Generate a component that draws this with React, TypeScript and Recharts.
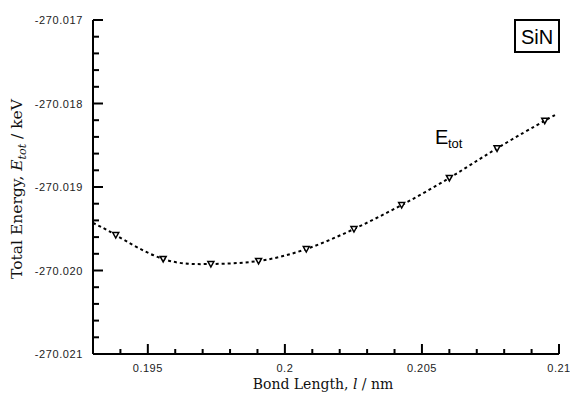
import React from "react";
import { ComposedChart, Line, Scatter, XAxis, YAxis, Label } from "recharts";

// measured points (bond length in nm, total energy in keV)
const bondLength = [0.19383, 0.19556, 0.1973, 0.19904, 0.20078, 0.20252, 0.20426, 0.206, 0.20774, 0.20948];
const totalEnergy = [
  -270.019575, -270.019862, -270.019922, -270.019886, -270.019743, -270.019503, -270.019216, -270.018892,
  -270.018537, -270.018206,
];

// dashed fit curve ends
const fitStart = { x: 0.193, y: -270.019431 };
const fitEnd = { x: 0.20993, y: -270.018126 };

const xTicks = [
  0.193, 0.194, 0.195, 0.196, 0.197, 0.198, 0.199, 0.2, 0.201, 0.202, 0.203, 0.204, 0.205, 0.206, 0.207, 0.208,
  0.209, 0.21,
];
const xMajor = [0.195, 0.2, 0.205, 0.21];
const xMajorLabels = ["0.195", "0.2", "0.205", "0.21"];

const yTicks = [
  -270.021, -270.0208, -270.0206, -270.0204, -270.0202, -270.02, -270.0198, -270.0196, -270.0194, -270.0192,
  -270.019, -270.0188, -270.0186, -270.0184, -270.0182, -270.018, -270.0178, -270.0176, -270.0174, -270.0172,
  -270.017,
];
const yMajor = [-270.021, -270.02, -270.019, -270.018, -270.017];
const yMajorLabels = ["-270.021", "-270.020", "-270.019", "-270.018", "-270.017"];

const points = bondLength.map((x, i) => ({ x, y: totalEnergy[i] }));
const curve = [fitStart, ...points, fitEnd];

const sans = "'Liberation Sans', Arial, sans-serif";
const serif = "'DejaVu Serif', serif";

const findMajor = (list: number[], v: number) => list.findIndex((m) => Math.abs(m - v) < 1e-7);

const BottomTick = ({ x, y, payload }: any) => {
  const i = findMajor(xMajor, payload.value);
  return (
    <g>
      <line x1={x} y1={y} x2={x} y2={y - (i >= 0 ? 10 : 5)} stroke="#000" strokeWidth={2} />
      {i >= 0 && (
        <text x={x} y={y + 18} textAnchor="middle" fontSize={11} letterSpacing={0.5} fontFamily={sans} fill="#222">
          {xMajorLabels[i]}
        </text>
      )}
    </g>
  );
};

const TopTick = ({ x, y, payload }: any) => {
  const i = findMajor(xMajor, payload.value);
  return <line x1={x} y1={y} x2={x} y2={y + (i >= 0 ? 10 : 5)} stroke="#000" strokeWidth={2} />;
};

const LeftTick = ({ x, y, payload }: any) => {
  const i = findMajor(yMajor, payload.value);
  return (
    <g>
      <line x1={x} y1={y} x2={x + (i >= 0 ? 10 : 6)} y2={y} stroke="#000" strokeWidth={2} />
      {i >= 0 && (
        <text x={x - 10} y={y + 4} textAnchor="end" fontSize={11} letterSpacing={0.6} fontFamily={sans} fill="#222">
          {yMajorLabels[i]}
        </text>
      )}
    </g>
  );
};

const RightTick = ({ x, y, payload }: any) => {
  const i = findMajor(yMajor, payload.value);
  return <line x1={x} y1={y} x2={x - (i >= 0 ? 10 : 6)} y2={y} stroke="#000" strokeWidth={2} />;
};

const Triangle = ({ cx, cy }: any) => (
  <path
    d={`M${cx - 3},${cy - 2.5} L${cx + 3},${cy - 2.5} L${cx},${cy + 3} Z`}
    fill="#fff"
    stroke="#000"
    strokeWidth={1.5}
  />
);

const XTitle = ({ viewBox }: any) => (
  <text
    x={viewBox.x + viewBox.width / 2 - 3}
    y={viewBox.y + 35}
    textAnchor="middle"
    fontSize={14}
    fontFamily={serif}
    fill="#111"
  >
    Bond Length, <tspan fontStyle="italic">l</tspan> / nm
  </text>
);

const YTitle = ({ viewBox }: any) => {
  const cx = 22;
  const cy = viewBox.y + viewBox.height / 2 + 2;
  return (
    <text
      x={cx}
      y={cy}
      transform={`rotate(-90 ${cx} ${cy})`}
      textAnchor="middle"
      fontSize={15.5}
      fontFamily={serif}
      fill="#111"
    >
      Total Energy, <tspan fontStyle="italic">E</tspan>
      <tspan fontStyle="italic" fontSize={11} dy={4}>
        tot
      </tspan>
      <tspan dy={-4}> / keV</tspan>
    </text>
  );
};

export default function App() {
  return (
    <div style={{ position: "absolute", left: 0, top: 0, width: 570, height: 394, background: "#fff" }}>
      <ComposedChart width={570} height={394} margin={{ top: 20, right: 11, bottom: 0, left: 0 }}>
        <XAxis
          dataKey="x"
          type="number"
          domain={[0.193, 0.21]}
          ticks={xTicks}
          interval={0}
          allowDataOverflow
          height={40}
          tickSize={0}
          tickMargin={0}
          tickLine={false}
          tick={<BottomTick />}
          axisLine={{ stroke: "#000", strokeWidth: 2 }}
        >
          <Label content={<XTitle />} />
        </XAxis>
        <XAxis
          xAxisId="top"
          orientation="top"
          dataKey="x"
          type="number"
          domain={[0.193, 0.21]}
          ticks={xTicks}
          interval={0}
          allowDataOverflow
          height={0}
          tickSize={0}
          tickMargin={0}
          tickLine={false}
          tick={<TopTick />}
          axisLine={{ stroke: "#000", strokeWidth: 2 }}
        />
        <YAxis
          dataKey="y"
          type="number"
          domain={[-270.021, -270.017]}
          ticks={yTicks}
          interval={0}
          allowDataOverflow
          width={93}
          tickSize={0}
          tickMargin={0}
          tickLine={false}
          tick={<LeftTick />}
          axisLine={{ stroke: "#000", strokeWidth: 2 }}
        >
          <Label content={<YTitle />} />
        </YAxis>
        <YAxis
          yAxisId="right"
          orientation="right"
          dataKey="y"
          type="number"
          domain={[-270.021, -270.017]}
          ticks={yTicks}
          interval={0}
          allowDataOverflow
          width={0}
          tickSize={0}
          tickMargin={0}
          tickLine={false}
          tick={<RightTick />}
          axisLine={{ stroke: "#000", strokeWidth: 2 }}
        />
        <Line
          data={curve}
          dataKey="y"
          type="natural"
          stroke="#000"
          strokeWidth={2}
          strokeDasharray="3 3"
          dot={false}
          activeDot={false}
          isAnimationActive={false}
        />
        <Scatter data={points} dataKey="y" shape={<Triangle />} isAnimationActive={false} />
      </ComposedChart>
      <svg
        width={570}
        height={394}
        style={{ position: "absolute", left: 0, top: 0, pointerEvents: "none" }}
      >
        <text x={435} y={144} fontSize={20} fontFamily={sans} fill="#000">
          E
        </text>
        <text x={448} y={148} fontSize={13} fontFamily={sans} fill="#000">
          tot
        </text>
        <rect x={515} y={20} width={44} height={32} fill="#fff" stroke="#000" strokeWidth={2} />
        <text x={537} y={44} textAnchor="middle" fontSize={20} fontFamily={sans} fill="#000">
          SiN
        </text>
      </svg>
    </div>
  );
}
